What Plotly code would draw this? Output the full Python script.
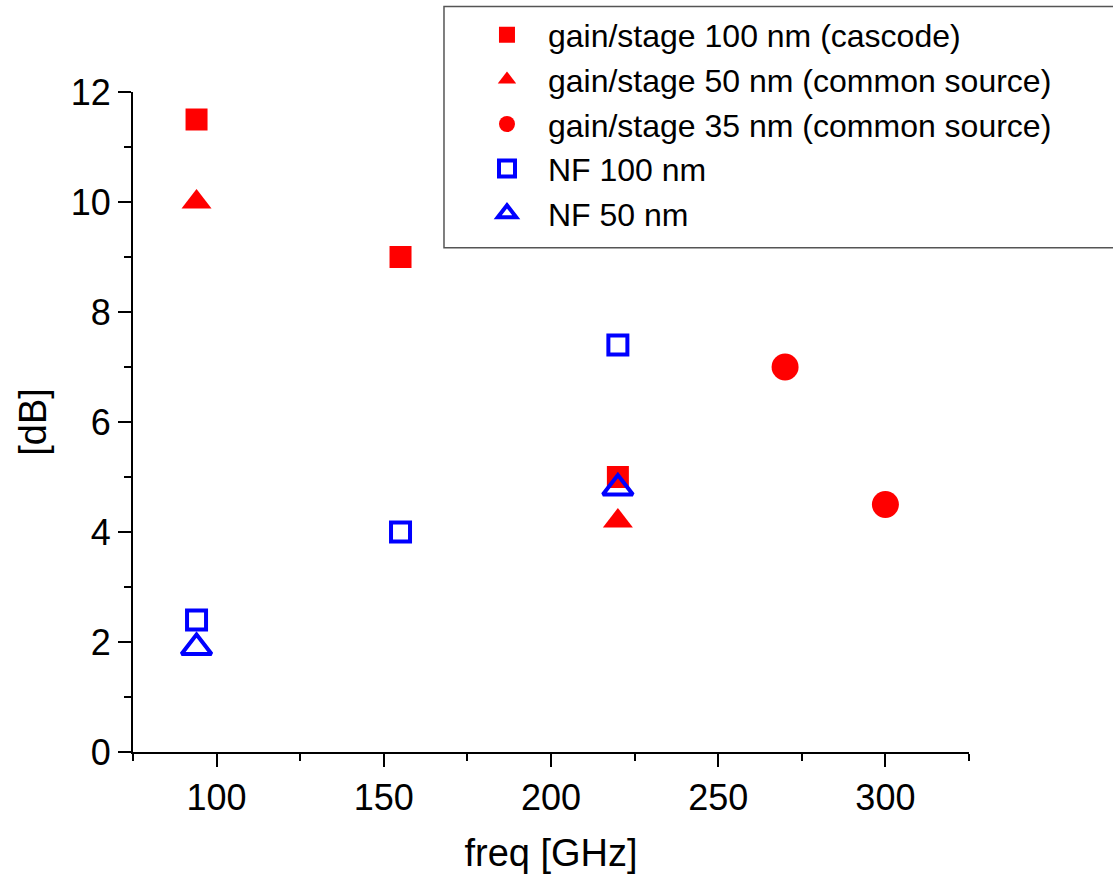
import plotly.graph_objects as go

# Data
gain100_x = [94, 155, 220]
gain100_y = [11.5, 9.0, 5.0]
gain50_x = [94, 220]
gain50_y = [10.0, 4.2]
gain35_x = [270, 300]
gain35_y = [7.0, 4.5]
nf100_x = [94, 155, 220]
nf100_y = [2.4, 4.0, 7.4]
nf50_x = [94, 220]
nf50_y = [1.9, 4.8]

names = ["gain/stage 100 nm (cascode)", "gain/stage 50 nm (common source)",
         "gain/stage 35 nm (common source)", "NF 100 nm", "NF 50 nm"]

RED = "#ff0000"
BLUE = "#0000ff"
FONT = "Liberation Sans, Arial, sans-serif"

fig = go.Figure()
fig.add_trace(go.Scatter(x=gain100_x, y=gain100_y, mode="markers", name=names[0],
                         marker=dict(symbol="square", size=22, color=RED, line=dict(width=0))))
fig.add_trace(go.Scatter(x=gain50_x, y=gain50_y, mode="markers", name=names[1],
                         marker=dict(symbol="triangle-up", size=26, color=RED, line=dict(width=0))))
fig.add_trace(go.Scatter(x=gain35_x, y=gain35_y, mode="markers", name=names[2],
                         marker=dict(symbol="circle", size=27, color=RED, line=dict(width=0))))
fig.add_trace(go.Scatter(x=nf100_x, y=nf100_y, mode="markers", name=names[3],
                         marker=dict(symbol="square-open", size=19, color=BLUE, line=dict(width=4, color=BLUE))))
fig.add_trace(go.Scatter(x=nf50_x, y=nf50_y, mode="markers", name=names[4],
                         marker=dict(symbol="triangle-up-open", size=26, color=BLUE, line=dict(width=4, color=BLUE))))

axis_common = dict(showline=True, linecolor="black", linewidth=2, showgrid=False, zeroline=False,
                   tickcolor="black", tickwidth=2, ticklen=13,
                   tickfont=dict(family=FONT, size=36, color="black"))

x_range = [75, 325]
y_range = [0, 12]

# legend frame (open on the right, extends beyond the figure edge)
lx0, ly0, ly1 = 0.372, 0.764, 1.1295
frame_path = f"M 1.5,{ly0} L {lx0},{ly0} L {lx0},{ly1} L 1.5,{ly1}"

fig.update_layout(
    width=1113, height=890,
    margin=dict(l=133, r=144, t=92, b=138, autoexpand=False),
    plot_bgcolor="white", paper_bgcolor="white",
    font=dict(family=FONT, color="black"),
    xaxis=dict(range=x_range, tick0=0, dtick=50, ticks="outside",
               minor=dict(ticks="outside", dtick=25, tick0=75, ticklen=7, tickwidth=2, tickcolor="black"),
               title=dict(text="freq [GHz]", font=dict(family=FONT, size=38), standoff=22),
               **axis_common),
    yaxis=dict(range=y_range, tick0=0, dtick=2, ticks="outside",
               minor=dict(ticks="outside", dtick=1, tick0=0, ticklen=7, tickwidth=2, tickcolor="black"),
               title=dict(text="[dB]", font=dict(family=FONT, size=38), standoff=12),
               **axis_common),
    xaxis2=dict(range=x_range, overlaying="x", side="top", tick0=0, dtick=50, ticks="inside",
                showticklabels=False,
                minor=dict(ticks="inside", dtick=25, tick0=75, ticklen=7, tickwidth=2, tickcolor="black"),
                **axis_common),
    yaxis2=dict(range=y_range, overlaying="y", side="right", tick0=0, dtick=2, ticks="inside",
                showticklabels=False,
                minor=dict(ticks="inside", dtick=1, tick0=0, ticklen=7, tickwidth=2, tickcolor="black"),
                **axis_common),
    showlegend=True,
    legend=dict(x=0.3983, y=1.128, xanchor="left", yanchor="top",
                bgcolor="rgba(0,0,0,0)", borderwidth=0,
                font=dict(family=FONT, size=32, color="black"),
                itemwidth=72, tracegroupgap=0),
    shapes=[dict(type="path", xref="paper", yref="paper", path=frame_path,
                 line=dict(color="#555555", width=1.5),
                 fillcolor="white", layer="above")],
)

fig.write_html("out.html")
